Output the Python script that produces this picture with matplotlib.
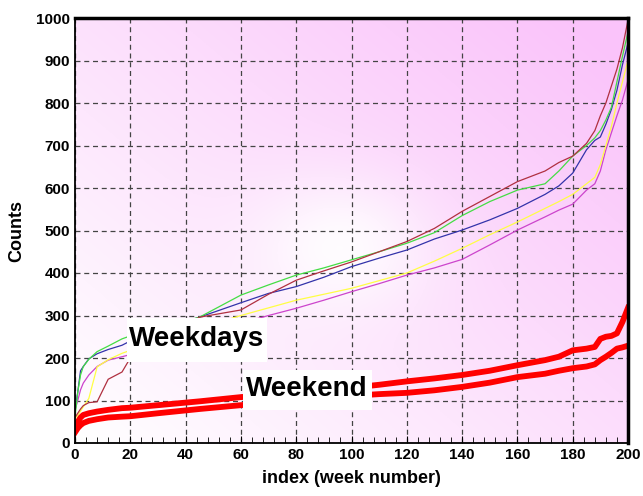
import numpy as np
import matplotlib
matplotlib.use("Agg")
import matplotlib.pyplot as plt
from matplotlib.patches import Rectangle
from matplotlib.ticker import MultipleLocator

plt.rcParams['font.family'] = ['Liberation Sans', 'DejaVu Sans']
plt.rcParams['font.weight'] = 'bold'

# week index where each curve was read
weeks = [0, 1, 2, 3, 5, 8, 12, 17, 20, 30, 45, 60, 70, 80, 90, 100, 110, 120,
         130, 140, 150, 160, 170, 175, 180, 185, 188, 190, 192, 194, 196, 198, 200]

# weekday curves
green = [61, 120, 160, 180, 197, 215, 228, 245, 252, 270, 296, 348, 372, 395, 412, 431, 450, 470,
         495, 535, 568, 595, 610, 640, 675, 700, 718, 735, 760, 790, 850, 910, 967]
brown = [60, 70, 80, 88, 95, 97, 150, 167, 200, 240, 296, 313, 350, 383, 405, 426, 450, 474,
         505, 545, 580, 615, 640, 660, 675, 705, 735, 770, 800, 840, 880, 930, 995]
blue = [77, 120, 170, 180, 198, 210, 220, 230, 240, 265, 296, 330, 352, 368, 390, 415, 435, 454,
        480, 501, 525, 552, 585, 605, 635, 690, 712, 720, 750, 785, 830, 890, 941]
yellow = [58, 65, 75, 85, 105, 179, 196, 211, 218, 240, 270, 300, 318, 336, 350, 364, 382, 400,
          428, 458, 490, 520, 552, 568, 585, 610, 625, 655, 700, 745, 800, 850, 901]
magenta = [77, 100, 125, 141, 160, 180, 195, 203, 208, 225, 255, 282, 300, 317, 336, 356, 375, 395,
           412, 432, 466, 501, 532, 548, 562, 595, 610, 640, 690, 730, 770, 807, 854]

# weekend curves
weekend_hi = [30, 50, 60, 66, 70, 74, 78, 82, 83, 89, 98, 108, 113, 120, 125, 130, 137, 145,
              152, 160, 170, 183, 195, 203, 218, 222, 226, 245, 250, 252, 258, 285, 318]
weekend_lo = [25, 35, 42, 47, 52, 56, 60, 62, 63, 70, 80, 89, 95, 100, 106, 111, 115, 118,
              124, 132, 142, 155, 163, 170, 176, 180, 185, 195, 203, 212, 222, 225, 229]

fig = plt.figure(figsize=(6.43, 4.96), dpi=100)
ax = fig.add_axes([75 / 643, 53 / 496, 553 / 643, 425 / 496])

# pink background, whitish towards the centre and bottom-left
u, v = np.meshgrid(np.linspace(0, 1, 300), np.linspace(0, 1, 300))
t = np.clip(0.55 * u + 0.5 * v, 0, 1)
t = t * (1 - 0.9 * np.exp(-((u - 0.48) ** 2 + (v - 0.46) ** 2) / 0.025))
pink = np.array([250, 195, 250]) / 255.0
img = np.ones((300, 300, 3)) * (1 - t[..., None]) + pink * t[..., None]
ax.imshow(img, extent=[0, 200, 0, 1000], origin='lower', aspect='auto', zorder=0)

for ys, c in [(magenta, '#cc44cc'), (yellow, '#ffff44'), (blue, '#3333aa'),
              (green, '#44dd44'), (brown, '#b03040')]:
    ax.plot(weeks, ys, color=c, lw=0.9, zorder=2)
ax.plot(weeks, weekend_hi, color='#ff0000', lw=4.2, zorder=2)
ax.plot(weeks, weekend_lo, color='#ff0000', lw=4.2, zorder=2)

# white label boxes
ax.add_patch(Rectangle((18.8, 191), 50.6, 103, facecolor='white', edgecolor='none', zorder=3))
ax.add_patch(Rectangle((60.8, 78), 46.6, 94, facecolor='white', edgecolor='none', zorder=3))
ax.text(44, 245, 'Weekdays', fontsize=20, fontweight='bold', ha='center', va='center', zorder=4)
ax.text(84, 128, 'Weekend', fontsize=20, fontweight='bold', ha='center', va='center', zorder=4)

ax.set_xlim(0, 200)
ax.set_ylim(0, 1000)
ax.xaxis.set_major_locator(MultipleLocator(20))
ax.xaxis.set_minor_locator(MultipleLocator(4))
ax.yaxis.set_major_locator(MultipleLocator(100))
ax.grid(True, which='major', color='#444444', ls=(0, (4, 3)), lw=0.9)
ax.tick_params(which='both', direction='in', labelsize=11)
ax.tick_params(which='major', length=5)
ax.tick_params(which='minor', length=4)
ax.tick_params(axis='y', length=0)
for lab in ax.get_xticklabels() + ax.get_yticklabels():
    lab.set_fontweight('bold')

ax.spines['left'].set_linewidth(1.3)
ax.spines['bottom'].set_linewidth(1.3)
ax.spines['top'].set_linewidth(2.5)
ax.spines['right'].set_linewidth(2.5)

ax.set_xlabel('index (week number)', fontsize=13, fontweight='bold', labelpad=6)
ax.set_ylabel('Counts', fontsize=13, fontweight='bold', labelpad=8)

fig.savefig('out.png', dpi=100)
